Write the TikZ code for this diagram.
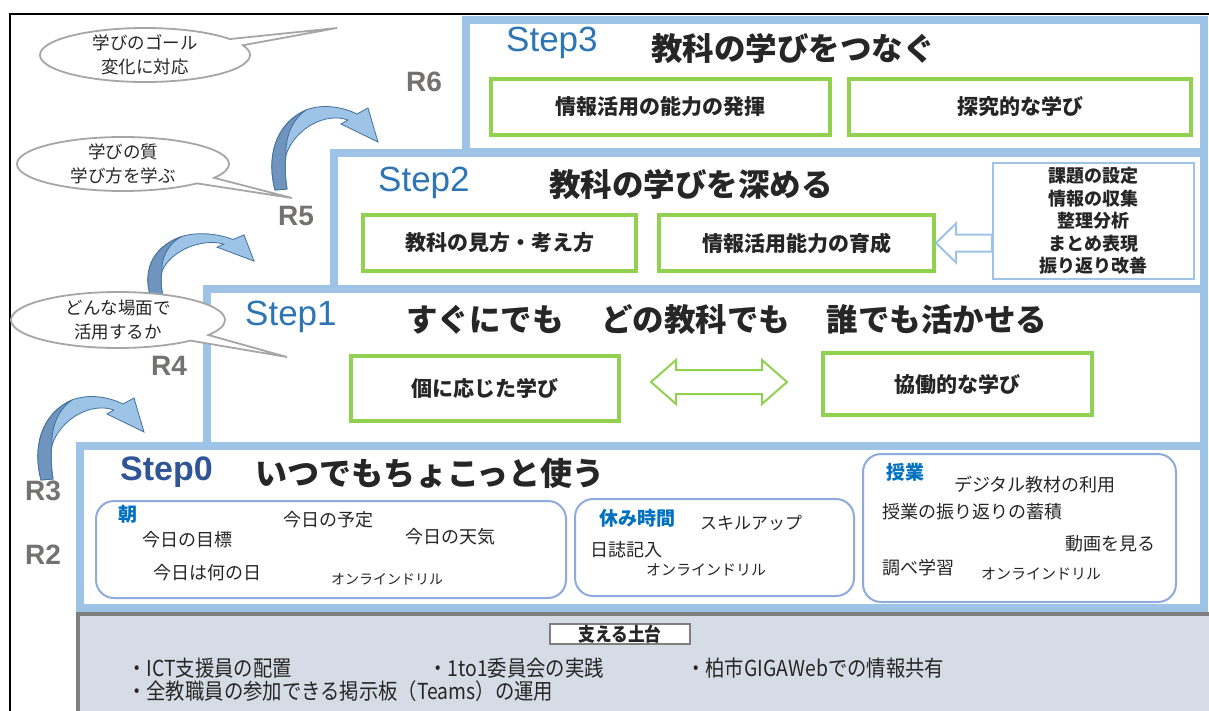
\documentclass[tikz,border=0pt]{standalone}
\usepackage{fontspec}
\setmainfont{Noto Sans CJK JP}
\newfontfamily\stepfont{Liberation Sans}
\newfontfamily\condfont[FakeStretch=0.88]{Noto Sans CJK JP}
\usetikzlibrary{shapes.callouts,calc}
\definecolor{stepblue}{HTML}{9DC3E6}
\definecolor{boxgreen}{HTML}{92D050}
\definecolor{rndblue}{HTML}{8FAADC}
\definecolor{lblblue}{HTML}{2E75B6}
\definecolor{lbldark}{HTML}{2F5597}
\definecolor{hblue}{HTML}{0070C0}
\definecolor{rgray}{HTML}{767171}
\definecolor{bgray}{HTML}{A6A6A6}
\definecolor{baseg}{HTML}{D6DCE5}
\definecolor{dgray}{HTML}{7F7F7F}
\definecolor{txt}{HTML}{262626}
\definecolor{arrlight}{HTML}{9DC3E6}
\definecolor{arrdark}{HTML}{6F94BD}
\definecolor{arrline}{HTML}{41719C}
\tikzset{
  stepframe/.style={draw=stepblue, line width=8pt, fill=white},
  basebar/.style={draw=dgray, line width=4pt, fill=baseg},
  gbox/.style={draw=boxgreen, line width=4pt, fill=white, text=txt, inner sep=0pt,
    font=\bfseries\fontsize{21}{25}\selectfont},
  procbox/.style={draw=stepblue, line width=2pt, fill=white, text=txt, align=center, inner sep=0pt,
    font=\bfseries\fontsize{18}{22.5}\selectfont},
  rbox/.style={draw=rndblue, line width=2pt, rounded corners=18pt, fill=white, inner sep=0pt},
  steplabel/.style={font=\stepfont\fontsize{35}{40}\selectfont, text=lblblue, anchor=west, inner sep=0pt},
  titletext/.style={font=\bfseries\fontsize{31.5}{36}\selectfont, text=txt, anchor=west, inner sep=0pt},
  rlabel/.style={font=\stepfont\bfseries\fontsize{28}{32}\selectfont, text=rgray, inner sep=0pt},
  itemtext/.style={font=\fontsize{18}{22}\selectfont, text=txt, inner sep=0pt},
  smalltext/.style={font=\fontsize{15}{18}\selectfont, text=txt, inner sep=0pt},
  headtext/.style={font=\bfseries\fontsize{19}{22}\selectfont, text=hblue, inner sep=0pt},
  bubble/.style={ellipse callout, draw=bgray, line width=1.8pt, fill=white, inner sep=0pt},
  bubtext/.style={align=center, font=\fontsize{17.5}{24}\selectfont, text=txt, inner sep=0pt},
  hollowb/.style={draw=stepblue, line width=2pt, fill=white, line join=miter},
  hollowg/.style={draw=boxgreen, line width=2pt, fill=white, line join=miter},
  basetext/.style={font=\condfont\fontsize{22}{26}\selectfont, text=txt, anchor=west, inner sep=0pt},
}
\newcommand\curvedarrow[3]{%
  \begin{scope}[shift={(#1,#2)}, yscale=#3]
    \fill[arrlight, draw=arrline, line width=0.8pt]
      (-6,0) .. controls (-14,-30) and (-8,-65) .. (25,-80)
      .. controls (40,-86) and (60,-84) .. (76,-76)
      -- (87,-82) -- (97,-48) -- (60,-66) -- (66.75,-70)
      .. controls (45,-78) and (14,-62) .. (5,-35)
      .. controls (3,-22) and (5,-8) .. (6,-1) -- cycle;
    \fill[arrdark, draw=arrline, line width=0.8pt]
      (-6,0) .. controls (-14,-30) and (-8,-65) .. (25,-80)
      .. controls (10,-70) and (4,-50) .. (5,-35)
      .. controls (3,-22) and (5,-8) .. (6,-1) -- cycle;
  \end{scope}}
\begin{document}
\begin{tikzpicture}[x=1pt,y=-1pt]
\useasboundingbox (0,0) rectangle (1209,710);
\fill[white] (0,0) rectangle (1209,710);
\draw[line width=1.5pt] (10,730) -- (10,14) -- (1230,14);

% step frames
\draw[stepframe] (466,20) rectangle (1204,152);
\draw[stepframe] (334,153) rectangle (1204,289);
\draw[stepframe] (207,289) rectangle (1204,446);
\draw[stepframe] (80,446) rectangle (1204,608);
\draw[basebar] (78,614) rectangle (1230,730);

% Step3
\node[steplabel] (s3l) at (506,43) {Step3};
\node[titletext] (s3t) at (651,49) {教科の学びをつなぐ};
\node[gbox, minimum width=339, minimum height=56] (s3a) at (660.5,107) {情報活用の能力の発揮};
\node[gbox, minimum width=342, minimum height=56] (s3b) at (1020,107) {探究的な学び};

% Step2
\node[steplabel] (s2l) at (378,183) {Step2};
\node[titletext] (s2t) at (549,185) {教科の学びを深める};
\node[gbox, minimum width=273, minimum height=56] (s2a) at (499.5,243) {教科の見方・考え方};
\node[gbox, minimum width=275, minimum height=56] (s2b) at (796.5,243) {情報活用能力の育成};
\node[procbox, minimum width=201, minimum height=116] (proc) at (1093.5,221)
  {課題の設定\\情報の収集\\整理分析\\まとめ表現\\振り返り改善};
\coordinate (ah) at (proc.west |- s2b.east);
\draw[hollowb] (s2b.east) -- ++(20,-19.5) -- ++(0,11) -- ($(ah)+(0,-8.5)$)
  -- ($(ah)+(0,8.5)$) -- ($(s2b.east)+(20,8.5)$) -- ++(0,11) -- cycle;

% Step1
\node[steplabel] (s1l) at (245,317) {Step1};
\node[titletext] (s1t) at (406,320) {すぐにでも\hspace{1.2em}どの教科でも\hspace{1.15em}誰でも活かせる};
\node[gbox, minimum width=268, minimum height=65] (s1a) at (485,388.5) {個に応じた学び};
\node[gbox, minimum width=269, minimum height=62] (s1b) at (957.5,384) {協働的な学び};
\coordinate (dl) at (651,382);
\coordinate (dr) at (787,382);
\draw[hollowg] (dl) -- ++(25,-22) -- ++(0,10) -- ($(dr)+(-25,-12)$) -- ++(0,-10) -- (dr)
  -- ++(-25,22) -- ++(0,-10) -- ($(dl)+(25,12)$) -- ++(0,10) -- cycle;

% Step0
\node[steplabel, text=lbldark, font=\stepfont\bfseries\fontsize{34}{40}\selectfont] (s0l) at (120,472) {Step0};
\node[titletext, font=\bfseries\fontsize{32}{36}\selectfont] (s0t) at (255,473) {いつでもちょこっと使う};
\node[rbox, minimum width=470, minimum height=97] (asa) at (331,549.5) {};
\node[rbox, minimum width=279, minimum height=97] (yasumi) at (714.5,547.5) {};
\node[rbox, minimum width=313, minimum height=148] (jugyo) at (1019.5,528) {};

\node[headtext] (h1) at (127.5,514) {朝};
\node[itemtext] (a1) at (187.5,540) {今日の目標};
\node[itemtext] (a2) at (328,520) {今日の予定};
\node[itemtext] (a3) at (450,537) {今日の天気};
\node[itemtext] (a4) at (207,573) {今日は何の日};
\node[smalltext, font=\fontsize{14}{17}\selectfont] (a5) at (387,579) {オンラインドリル};

\node[headtext] (h2) at (637,518) {休み時間};
\node[itemtext, font=\fontsize{17}{20}\selectfont] (y1) at (751,523) {スキルアップ};
\node[itemtext] (y2) at (626,549.5) {日誌記入};
\node[smalltext] (y3) at (706,570) {オンラインドリル};

\node[headtext] (h3) at (905,472) {授業};
\node[itemtext] (j1) at (1035,485) {デジタル教材の利用};
\node[itemtext] (j2) at (972,512) {授業の振り返りの蓄積};
\node[itemtext] (j3) at (1110,544) {動画を見る};
\node[itemtext] (j4) at (918,568) {調べ学習};
\node[smalltext] (j5) at (1041,574) {オンラインドリル};

% base
\node[draw=dgray, line width=2pt, fill=white, minimum width=140, minimum height=20, inner sep=0pt,
  font=\condfont\bfseries\fontsize{19}{20}\selectfont, text=txt] (base) at (620,634) {支える土台};
\node[basetext] (b1) at (127,668) {・ICT支援員の配置};
\node[basetext] (b2) at (428,668) {・1to1委員会の実践};
\node[basetext] (b3) at (686,668) {・柏市GIGAWebでの情報共有};
\node[basetext] (b4) at (127,691) {・全教職員の参加できる掲示板（Teams）の運用};

% R labels
\node[rlabel] (r6) at (424,82) {R6};
\node[rlabel] (r5) at (296,216) {R5};
\node[rlabel] (r4) at (169,366) {R4};
\node[rlabel] (r3) at (43,491) {R3};
\node[rlabel] (r2) at (43,555) {R2};

% curved arrows
\curvedarrow{281}{190}{1}
\curvedarrow{157}{298}{0.77}
\curvedarrow{47}{480}{1}

% bubbles
\node[bubble, minimum width=210, minimum height=54, callout absolute pointer={(337,28)}] (c1) at (145,55) {};
\node[bubtext] (c1t) at (c1.center) {学びのゴール\\変化に対応};
\node[bubble, minimum width=212, minimum height=54, callout absolute pointer={(292,198)}] (c2) at (123,164) {};
\node[bubtext] (c2t) at (c2.center) {学びの質\\学び方を学ぶ};
\node[bubble, minimum width=214, minimum height=56, callout absolute pointer={(287,357)}] (c3) at (118,320) {};
\node[bubtext] (c3t) at (c3.center) {どんな場面で\\活用するか};
\end{tikzpicture}
\end{document}
